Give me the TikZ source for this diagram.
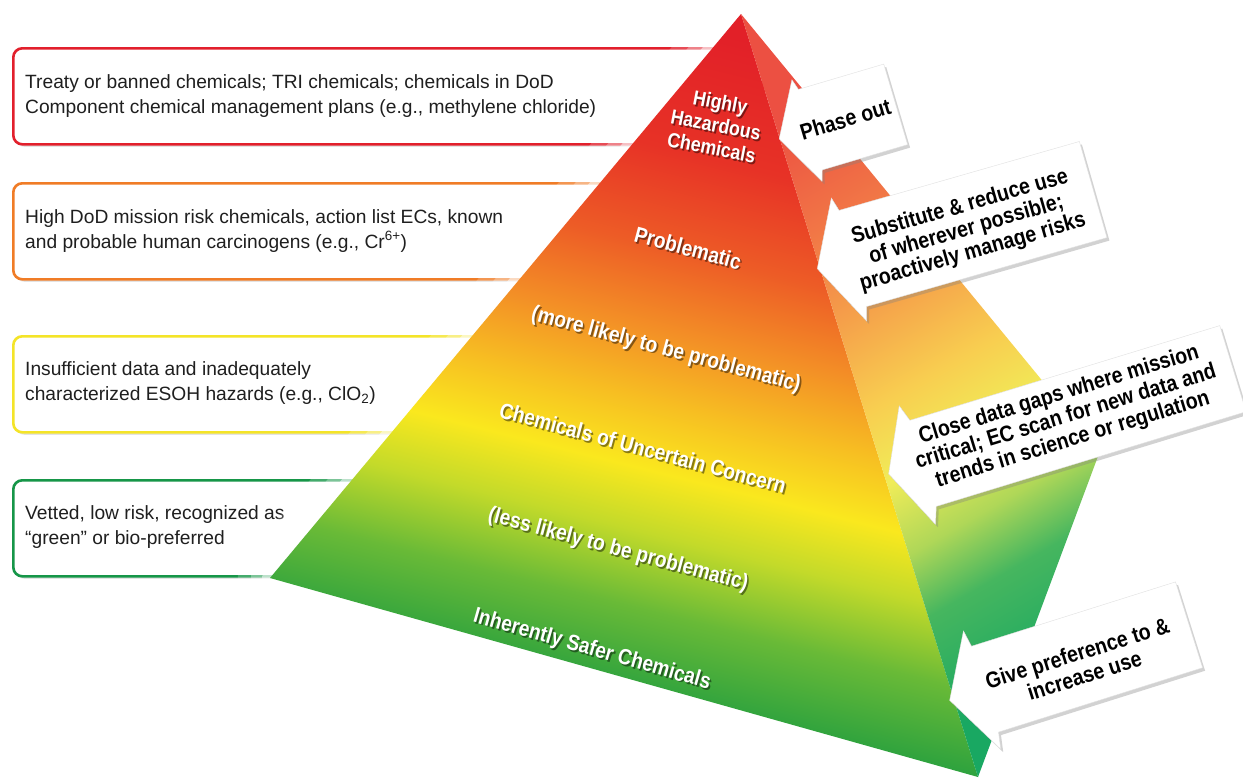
\documentclass[tikz,border=0pt]{standalone}
\usepackage{fontspec}
\setmainfont{Liberation Sans}
\newfontfamily\condfont{Liberation Sans Bold}[FakeStretch=0.87]
\usetikzlibrary{shadows}
\definecolor{boxred}{RGB}{226,32,44}
\definecolor{boxorange}{RGB}{240,124,38}
\definecolor{boxyellow}{RGB}{244,228,40}
\definecolor{boxgreen}{RGB}{22,150,72}
\definecolor{fa}{RGB}{22,150,78}
\definecolor{fb}{RGB}{45,162,62}
\definecolor{fc}{RGB}{105,186,55}
\definecolor{fd}{RGB}{195,218,42}
\definecolor{fe}{RGB}{250,232,30}
\definecolor{ff}{RGB}{247,192,34}
\definecolor{fg}{RGB}{243,142,38}
\definecolor{fh}{RGB}{237,92,38}
\definecolor{fi}{RGB}{231,50,38}
\definecolor{fj}{RGB}{226,32,40}
\pgfdeclareverticalshading{frontshade}{100bp}{color(0bp)=(fa); color(25bp)=(fa); color(31bp)=(fb); color(36.5bp)=(fc); color(41.5bp)=(fd); color(45.6bp)=(fe); color(49.9bp)=(ff); color(54.9bp)=(fg); color(60.2bp)=(fh); color(66.7bp)=(fi); color(75bp)=(fj); color(100bp)=(fj)}
\definecolor{ra}{RGB}{25,168,98}
\definecolor{rb}{RGB}{70,182,95}
\definecolor{rc}{RGB}{175,215,88}
\definecolor{rd}{RGB}{240,236,88}
\definecolor{re}{RGB}{248,206,80}
\definecolor{rf}{RGB}{245,160,74}
\definecolor{rg}{RGB}{241,118,70}
\definecolor{rh}{RGB}{236,80,66}
\pgfdeclareverticalshading{rightshade}{100bp}{color(0bp)=(ra); color(25bp)=(ra); color(34bp)=(rb); color(39.2bp)=(rc); color(45.1bp)=(rd); color(51bp)=(re); color(58.5bp)=(rf); color(66bp)=(rg); color(75bp)=(rh); color(100bp)=(rh)}
\tikzset{
 box/.style={draw=#1, line width=2.6pt, rounded corners=9pt, fill=white, inner sep=0pt,
   anchor=north west, minimum width=750pt, minimum height=96pt,
   drop shadow={opacity=0.22, shadow xshift=2pt, shadow yshift=-2.5pt}},
 boxtext/.style={anchor=west, align=left, font=\fontsize{19.2}{24.7}\selectfont, text=black!88, inner sep=0pt},
 plab/.style={font=\condfont\fontsize{22}{23}\selectfont, text=white, align=center, inner sep=0pt},
 plabshadow/.style={plab, text=black, opacity=0.45},
 callshape/.style={fill=white, draw=black!12, line width=0.4pt,
   drop shadow={opacity=0.35, shadow xshift=2.5pt, shadow yshift=-3pt}},
 ctext/.style={font=\condfont\fontsize{22.5}{23.5}\selectfont, align=center, text=black, inner sep=0pt, transform shape},
}
\newcommand\pyrlab[6][]{%
 \node[plabshadow,#1, xshift=1.6pt, yshift=-1.8pt, rotate=#5] (#2s) at (#3,#4) {#6};
 \node[plab,#1, rotate=#5] (#2) at (#3,#4) {#6};}
\begin{document}
\begin{tikzpicture}[x=1pt,y=-1pt]
\fill[white] (0,0) rectangle (1243,779);
\useasboundingbox (0,0) rectangle (1243,779);
% left boxes
\node[box=boxred] (b1) at (12,47) {};
\node[box=boxorange] (b2) at (12,182) {};
\node[box=boxyellow] (b3) at (12,335) {};
\node[box=boxgreen] (b4) at (12,479) {};
\node[boxtext] (t1) at (25,96) {Treaty or banned chemicals; TRI chemicals; chemicals in DoD\\Component chemical management plans (e.g., methylene chloride)};
\node[boxtext] (t2) at (25,231) {High DoD mission risk chemicals, action list ECs, known\\and probable human carcinogens (e.g., Cr\textsuperscript{6+})};
\node[boxtext] (t3) at (25,383) {Insufficient data and inadequately\\characterized ESOH hazards (e.g., ClO\textsubscript{2})};
\node[boxtext] (t4) at (25,527) {Vetted, low risk, recognized as\\“green” or bio-preferred};
% pyramid
\coordinate (A) at (741,14);
\coordinate (L) at (270,578);
\coordinate (F) at (978,777);
\coordinate (R) at (1100,451);
\foreach \w/\o in {64/0.2, 38/0.3, 16/0.5}
  \draw[white, line width=\w pt, opacity=\o, line join=round] (A)--(L)--(F)--(R)--cycle;
\shade[shading=frontshade, shading angle=-14] (A)--(L)--(F)--cycle;
\shade[shading=rightshade, shading angle=30] (A)--(F)--(R)--cycle;
% labels
\pyrlab[font=\condfont\fontsize{20.5}{23}\selectfont]{hhc}{716}{125}{-11}{Highly\\Hazardous\\Chemicals}
\pyrlab{prob}{688}{248}{-15}{Problematic}
\pyrlab{more}{666}{350}{-15}{(more likely to be problematic)}
\pyrlab{unc}{643}{448}{-15}{Chemicals of Uncertain Concern}
\pyrlab{less}{618}{550}{-15}{(less likely to be problematic)}
\pyrlab{safe}{592}{650}{-16}{Inherently Safer Chemicals}
% callouts
\begin{scope}[shift={(853,117)}, rotate=16.5]
 \path[callshape] (-77,0) -- (-48,-53) -- (-44.5,-42) -- (44.5,-42) -- (44.5,42) -- (-44.5,42) -- (-48,53) -- cycle;
 \node[ctext] (c1) at (-8,0) {Phase out};
\end{scope}
\begin{scope}[shift={(973,224)}, rotate=16]
 \path[callshape] (-162,0) -- (-129,-64) -- (-125,-50) -- (125,-50) -- (125,50) -- (-125,50) -- (-129,64) -- cycle;
 \node[ctext] (c2) at (-8,4) {Substitute \& reduce use\\of wherever possible;\\proactively manage risks};
\end{scope}
\begin{scope}[shift={(1078,416)}, rotate=17]
 \path[callshape] (-198,0) -- (-168,-62) -- (-162,-45) -- (162,-45) -- (162,45) -- (-162,45) -- (-168,62) -- cycle;
 \node[ctext] (c3) at (-12,-2) {Close data gaps where mission\\critical; EC scan for new data and\\trends in science or regulation};
\end{scope}
\begin{scope}[shift={(1087,657)}, rotate=17.5]
 \path[callshape] (-144,0) -- (-110,-62) -- (-107,-45) -- (107,-45) -- (107,45) -- (-107,45) -- (-110,62) -- cycle;
 \node[ctext] (c4) at (-8,5) {Give preference to \&\\increase use};
\end{scope}
\end{tikzpicture}
\end{document}
